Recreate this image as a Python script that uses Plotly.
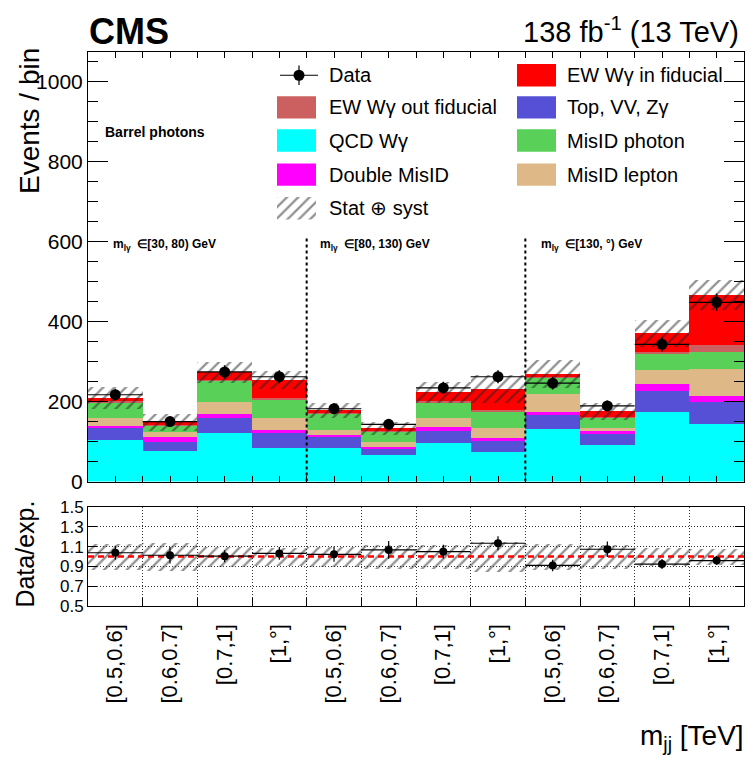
import numpy as np
import plotly.graph_objects as go

W, H = 748, 779
FONT = "Liberation Sans, Arial, Helvetica, sans-serif"

# ---- data -------------------------------------------------------------
bin_labels = ["[0.5,0.6]", "[0.6,0.7]", "[0.7,1]", "[1,°]"] * 3
region_labels = ["m<sub>lγ</sub>  ∈[30, 80) GeV",
                 "m<sub>lγ</sub>  ∈[80, 130) GeV",
                 "m<sub>lγ</sub>  ∈[130, °) GeV"]

qcd_wg   = [103, 77, 122, 85, 85, 67, 97, 73, 131, 91, 173, 144]
top_vv   = [31, 23, 36, 37, 26, 17, 29, 28, 35, 28, 54, 56]
dbl_mis  = [6, 11, 12, 8, 5, 3, 11, 9, 9, 8, 16, 13]
mis_lep  = [18, 12, 29, 28, 14, 13, 21, 24, 44, 7, 35, 69]
mis_pho  = [41, 17, 53, 47, 40, 26, 41, 41, 41, 26, 43, 43]
ew_out   = [2, 1, 2, 4, 1, 1, 2, 4, 2, 2, 4, 16]
ew_in    = [8, 7, 19, 45, 7, 7, 22, 52, 8, 14, 46, 126]
data     = [217, 150, 274, 262, 182, 143, 234, 262, 246, 189, 343, 448]
rel_unc  = [0.13, 0.14, 0.10, 0.09, 0.10, 0.12, 0.12, 0.15, 0.13, 0.12, 0.09, 0.08]

# stacking order, bottom to top
stack = [
    ("QCD Wγ", qcd_wg, "#00ffff"),
    ("Top, VV, Zγ", top_vv, "#5650d6"),
    ("Double MisID", dbl_mis, "#ff00ff"),
    ("MisID lepton", mis_lep, "#deb887"),
    ("MisID photon", mis_pho, "#59d159"),
    ("EW Wγ out fiducial", ew_out, "#cc6060"),
    ("EW Wγ in fiducial", ew_in, "#ff0000"),
]

nb = len(data)
xc = np.arange(nb) + 0.5
total = np.sum([np.array(v, float) for _, v, _ in stack], axis=0)
d = np.array(data, float)
rel = np.array(rel_unc)
ratio = d / total
ratio_err = np.sqrt(d) / total


def px(x):
    return x / W


def py(y):
    return 1 - y / H


HATCH = dict(shape="/", fgcolor="#222222", bgcolor="rgba(0,0,0,0)",
             size=8, solidity=0.28, fillmode="overlay")

fig = go.Figure()

# ---- stacked backgrounds ---------------------------------------------
base = np.zeros(nb)
for name, vals, col in stack:
    v = np.array(vals, float)
    fig.add_trace(go.Bar(x=xc, y=v, base=base, width=1.0, marker=dict(color=col, line=dict(width=0)),
                         name=name, showlegend=False, xaxis="x", yaxis="y"))
    base = base + v

# uncertainty band on the total
fig.add_trace(go.Bar(x=xc, y=2 * rel * total, base=total * (1 - rel), width=1.0,
                     marker=dict(color="rgba(0,0,0,0)", line=dict(width=0), pattern=HATCH),
                     showlegend=False, xaxis="x", yaxis="y"))

# data points
fig.add_trace(go.Scatter(x=xc, y=d, mode="markers",
                         marker=dict(color="black", size=11),
                         error_y=dict(type="data", array=np.sqrt(d), color="black", thickness=1.5, width=0),
                         error_x=dict(type="data", array=[0.5] * nb, color="black", thickness=1.2, width=0),
                         showlegend=False, xaxis="x", yaxis="y"))

# ---- ratio panel ------------------------------------------------------
fig.add_trace(go.Bar(x=xc, y=2 * rel, base=1 - rel, width=1.0,
                     marker=dict(color="rgba(0,0,0,0)", line=dict(width=0), pattern=HATCH),
                     showlegend=False, xaxis="x2", yaxis="y2"))
fig.add_trace(go.Scatter(x=[0, nb], y=[1, 1], mode="lines",
                         line=dict(color="red", width=2.5, dash="6px,4px"),
                         showlegend=False, xaxis="x2", yaxis="y2"))
fig.add_trace(go.Scatter(x=xc, y=ratio, mode="markers",
                         marker=dict(color="black", size=8),
                         error_y=dict(type="data", array=ratio_err, color="black", thickness=1.2, width=0),
                         error_x=dict(type="data", array=[0.5] * nb, color="black", thickness=1.2, width=0),
                         showlegend=False, xaxis="x2", yaxis="y2"))

# ---- legend keys (pixel-space overlay axes) ---------------------------
fig.add_trace(go.Scatter(x=[277, 316, 316, 277, 277], y=[193, 193, 216, 216, 193],
                         mode="lines", fill="toself", line=dict(width=0),
                         fillcolor="rgba(0,0,0,0)", fillpattern=HATCH,
                         showlegend=False, xaxis="x3", yaxis="y3", hoverinfo="skip"))
fig.add_trace(go.Scatter(x=[280, 318], y=[68, 68], mode="lines",
                         line=dict(color="black", width=1.2),
                         showlegend=False, xaxis="x3", yaxis="y3", hoverinfo="skip"))
fig.add_trace(go.Scatter(x=[299, 299], y=[58, 78], mode="lines",
                         line=dict(color="black", width=1.2),
                         showlegend=False, xaxis="x3", yaxis="y3", hoverinfo="skip"))
fig.add_trace(go.Scatter(x=[299], y=[68], mode="markers",
                         marker=dict(color="black", size=11),
                         showlegend=False, xaxis="x3", yaxis="y3", hoverinfo="skip"))

shapes = []
annotations = []
legend_left = [("Data", None, 68), ("EW Wγ out fiducial", "#cc6060", 101),
               ("QCD Wγ", "#00ffff", 135), ("Double MisID", "#ff00ff", 170),
               ("Stat ⊕ syst", None, 204)]
legend_right = [("EW Wγ in fiducial", "#ff0000", 68), ("Top, VV, Zγ", "#5650d6", 101),
                ("MisID photon", "#59d159", 135), ("MisID lepton", "#deb887", 170)]
for items, xbox, xtext in ((legend_left, 277, 327), (legend_right, 517, 565)):
    for label, col, yc in items:
        if col is not None:
            shapes.append(dict(type="rect", xref="paper", yref="paper",
                               x0=px(xbox), x1=px(xbox + 39), y0=py(yc - 11.5), y1=py(yc + 11.5),
                               fillcolor=col, line=dict(width=0), layer="above"))
        annotations.append(dict(x=px(xtext), y=py(yc), xref="paper", yref="paper",
                                text=label, showarrow=False, xanchor="left", yanchor="middle",
                                font=dict(family=FONT, size=20, color="black")))

# separators between m_lγ regions
for xs in (4, 8):
    shapes.append(dict(type="line", xref="x", yref="y", x0=xs, x1=xs, y0=0, y1=615,
                       line=dict(color="black", width=2, dash="3px,3px"), layer="above"))

# ---- text -------------------------------------------------------------
annotations += [
    dict(x=px(87), y=py(23), xref="paper", yref="paper", text="<b>CMS</b>", showarrow=False,
         xanchor="left", yanchor="middle", font=dict(family=FONT, size=36, color="black")),
    dict(x=px(741), y=py(22), xref="paper", yref="paper",
         text="138 fb<sup>-1</sup> (13 TeV)", showarrow=False,
         xanchor="right", yanchor="middle", font=dict(family=FONT, size=29, color="black")),
    dict(x=px(103), y=py(126), xref="paper", yref="paper", text="<b>Barrel photons</b>",
         showarrow=False, xanchor="left", yanchor="middle",
         font=dict(family=FONT, size=14, color="black")),
    dict(x=px(29), y=py(38), xref="paper", yref="paper", text="Events / bin", textangle=-90,
         showarrow=False, xanchor="center", yanchor="top",
         font=dict(family=FONT, size=28, color="black")),
    dict(x=px(25), y=py(503), xref="paper", yref="paper", text="Data/exp.", textangle=-90,
         showarrow=False, xanchor="center", yanchor="top",
         font=dict(family=FONT, size=25, color="black")),
    dict(x=px(746), y=py(748), xref="paper", yref="paper", text="m<sub>jj</sub> [TeV]",
         showarrow=False, xanchor="right", yanchor="middle",
         font=dict(family=FONT, size=28, color="black")),
]
for xl, txt in zip((111, 318, 539), region_labels):
    annotations.append(dict(x=px(xl), y=py(242), xref="paper", yref="paper",
                            text="<b>" + txt + "</b>", showarrow=False,
                            xanchor="left", yanchor="middle",
                            font=dict(family=FONT, size=12, color="black")))

xdom = [px(88), px(744)]
axis_common = dict(showline=True, linecolor="black", linewidth=1, zeroline=False,
                   tickcolor="black", tickfont=dict(family=FONT, size=21, color="black"))

fig.update_layout(
    width=W, height=H, margin=dict(l=0, r=0, t=0, b=0),
    paper_bgcolor="white", plot_bgcolor="rgba(0,0,0,0)",
    barmode="overlay", bargap=0, showlegend=False,
    font=dict(family=FONT, color="black"),
    xaxis=dict(domain=xdom, range=[0, nb], anchor="y", ticks="inside", tick0=0, dtick=0.5,
               ticklen=6, showticklabels=False, showgrid=False, mirror="ticks", **axis_common),
    yaxis=dict(domain=[py(485), py(44)], range=[0, 1074], anchor="x",
               tickvals=[0, 200, 400, 600, 800, 1000], ticks="inside", ticklen=20,
               minor=dict(dtick=50, ticks="inside", ticklen=10, tickcolor="black", showgrid=False),
               showgrid=False, mirror="ticks", **axis_common),
    xaxis2=dict(domain=xdom, range=[0, nb], anchor="y2", tickvals=xc, ticktext=bin_labels,
                tickangle=-90, ticks="", showgrid=False, mirror=True, ticklabelstandoff=8,
                minor=dict(tickvals=list(range(1, nb)), ticks="inside", ticklen=8,
                           tickcolor="black", showgrid=True, griddash="1px,2px",
                           gridcolor="#333", gridwidth=1),
                **axis_common),
    yaxis2=dict(domain=[py(613), py(511)], range=[0.5, 1.5], anchor="x2",
                tickvals=[0.5, 0.7, 0.9, 1.1, 1.3, 1.5],
                ticktext=["0.5", "0.7", "0.9", "1.1", "1.3", "1.5"],
                ticks="inside", ticklen=9, showgrid=True, griddash="1px,2px",
                gridcolor="#333", gridwidth=1, mirror="ticks", **axis_common),
    xaxis3=dict(domain=[0, 1], range=[0, W], anchor="y3", visible=False, fixedrange=True),
    yaxis3=dict(domain=[0, 1], range=[H, 0], anchor="x3", visible=False, fixedrange=True),
    shapes=shapes, annotations=annotations,
)
fig.update_xaxes(tickfont=dict(size=22), selector=dict(anchor="y2"))
fig.update_yaxes(tickfont=dict(size=17), selector=dict(anchor="x2"))

fig.write_html("out.html")
